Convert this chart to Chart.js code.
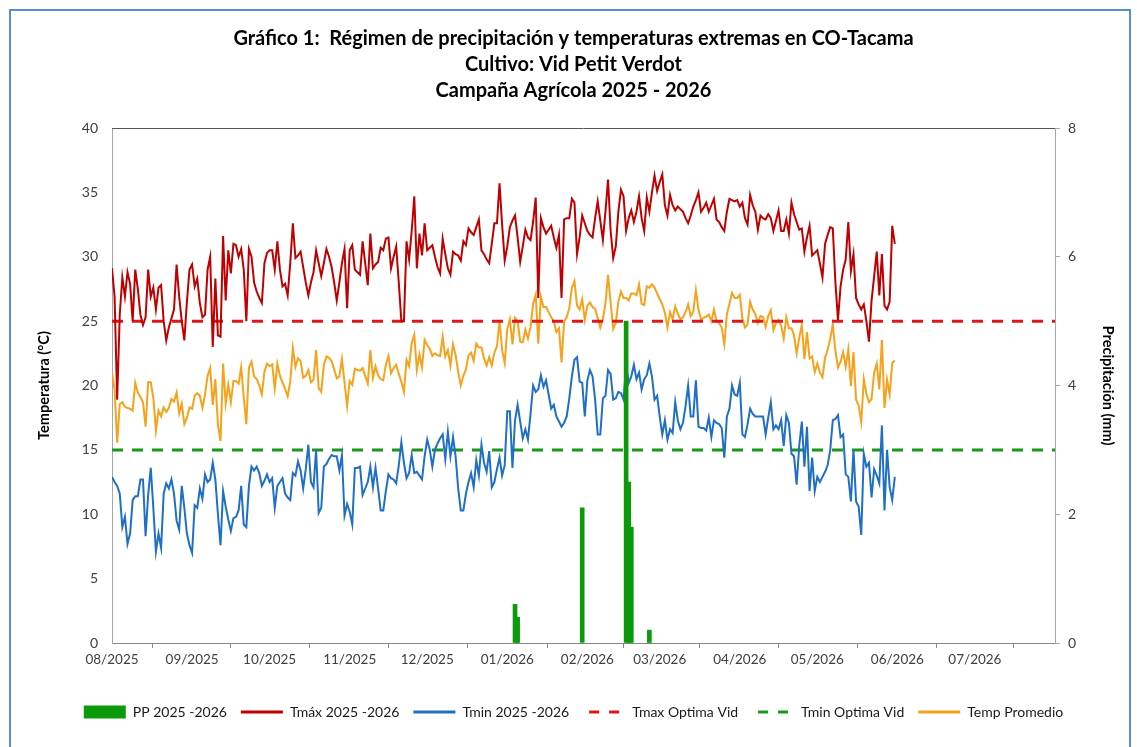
<!DOCTYPE html>
<html>
<head>
<meta charset="utf-8">
<script src="https://cdn.jsdelivr.net/npm/chart.js@4.4.1/dist/chart.umd.min.js"></script>
<style>
html,body{margin:0;padding:0;background:#fff;}
#wrap{position:relative;width:1137px;height:747px;overflow:hidden;background:#fff;}
#frame{position:absolute;left:9px;top:9px;width:1122px;height:760px;border:2px solid #5B8ED0;box-sizing:border-box;pointer-events:none;}
canvas{position:absolute;left:0;top:0;}
</style>
</head>
<body>
<div id="wrap"><canvas id="c" width="1137" height="747"></canvas><div id="frame"></div></div>
<script>
// Day index 0 = 2025-08-01 (daily series)
const startDate = '2025-08-01';
const monthTickDays = [0, 31, 61, 92, 122, 153, 184, 212, 243, 273, 304, 334];
const monthTickLabels = ['08/2025','09/2025','10/2025','11/2025','12/2025','01/2026','02/2026','03/2026','04/2026','05/2026','06/2026','07/2026'];
const axisEndDay = 365;

const tmax = [
29.1,26.9,18.9,25.5,28.4,26.9,28.8,27.9,25.0,29.0,
27.5,25.5,24.7,25.3,29.0,26.9,27.6,25.9,27.6,27.8,
25.0,23.5,24.5,25.2,25.9,29.4,26.9,25.0,23.5,26.5,
29.0,29.4,27.7,28.3,26.4,25.3,25.5,29.0,30.0,23.0,
28.3,23.9,23.8,31.6,26.6,30.5,28.7,31.0,30.9,30.0,
30.6,29.0,25.0,30.6,30.0,28.0,27.3,26.8,26.4,29.5,
30.3,30.5,30.5,29.0,31.2,29.0,27.7,27.9,27.0,29.5,
32.6,29.9,30.1,30.4,29.2,28.0,27.0,28.0,28.8,30.5,
29.5,28.5,29.5,30.6,30.0,29.2,28.0,26.6,28.0,29.5,
30.6,26.0,30.5,30.9,29.0,28.8,28.6,31.2,29.5,27.8,
31.8,29.1,29.4,29.6,30.7,30.5,31.4,31.5,29.1,30.0,
30.8,28.0,25.0,25.0,31.2,29.8,32.0,34.7,29.1,31.8,
30.1,32.6,30.5,30.7,30.9,30.0,29.2,28.7,31.4,30.2,
29.1,28.6,30.4,30.2,30.1,29.7,31.2,30.9,32.2,31.9,
31.7,32.3,32.9,30.5,30.2,29.8,29.5,31.0,32.6,32.6,
35.7,32.5,29.7,30.8,32.3,32.8,33.2,31.5,29.6,30.8,
32.1,31.5,31.3,32.7,34.6,26.8,33.0,32.3,31.8,32.1,
32.4,31.5,30.7,31.7,26.8,32.9,33.0,33.0,34.5,34.2,
30.2,31.5,33.2,32.6,32.0,31.7,31.5,33.0,34.3,32.8,
31.3,33.5,36.0,32.0,29.9,30.8,33.5,35.2,34.7,32.0,
33.0,33.6,32.7,33.5,34.7,33.0,32.0,34.6,33.5,35.0,
36.3,35.1,35.8,36.4,34.0,33.2,34.8,34.0,33.6,33.9,
33.7,33.5,33.0,32.6,33.2,33.9,34.4,35.0,33.5,33.8,
34.2,33.5,34.0,34.5,32.9,32.7,32.3,32.0,33.5,34.5,
34.4,34.3,34.4,33.9,34.2,33.0,32.5,34.8,34.0,33.5,
32.1,33.2,33.0,32.9,33.3,33.0,32.0,32.8,33.6,32.0,
32.0,32.9,31.8,34.2,33.3,32.7,32.1,32.2,30.4,31.5,
32.4,30.1,30.3,30.5,29.5,28.4,31.0,31.7,32.3,32.2,
28.0,25.1,27.7,29.0,29.8,32.7,28.9,30.2,26.8,26.3,
25.9,26.3,25.0,23.4,26.6,28.5,30.4,27.0,30.2,26.2,
25.9,26.5,32.4,31.0
];

const tmin = [
12.9,12.5,12.2,11.6,9.0,9.8,7.7,8.5,11.1,11.4,
11.4,12.7,12.7,8.3,11.5,13.6,10.5,7.1,8.5,7.4,
11.6,12.4,12.0,12.7,11.6,9.5,8.8,12.2,10.5,8.5,
7.6,7.0,10.7,10.5,12.0,11.2,13.1,12.5,12.7,14.0,
12.7,10.0,7.6,11.8,10.6,9.6,8.7,9.7,9.8,10.3,
12.2,9.2,9.0,12.2,13.7,13.4,13.7,13.2,12.2,12.6,
13.1,12.5,12.8,10.5,12.2,12.5,12.8,11.6,11.3,11.1,
13.2,13.0,14.1,13.4,12.0,13.5,15.4,12.5,12.1,15.0,
10.1,10.5,13.7,13.9,14.3,14.6,14.5,14.5,13.4,14.6,
9.9,10.8,10.2,9.2,13.6,13.6,13.7,11.5,12.0,12.5,
13.7,12.1,13.6,12.0,10.3,10.3,11.8,13.1,12.8,12.7,
12.4,13.8,15.6,14.0,12.8,13.2,14.6,13.2,13.3,13.0,
12.7,14.5,15.8,15.0,13.7,15.0,15.5,15.9,16.2,14.3,
16.4,14.5,16.0,14.5,12.0,10.3,10.3,11.6,12.5,13.2,
12.1,14.2,13.0,15.4,14.0,13.3,14.9,12.1,12.5,13.5,
14.4,13.0,13.8,18.0,18.0,13.6,17.3,18.5,17.2,15.9,
16.6,15.8,17.8,20.0,19.5,19.7,20.8,19.9,20.4,19.3,
18.2,18.5,17.6,17.2,16.8,17.1,17.6,19.0,20.7,22.0,
22.2,20.3,20.2,17.6,20.4,21.2,20.7,18.9,16.2,16.2,
19.0,19.2,21.2,20.9,18.9,19.0,19.5,19.4,18.9,21.6,
20.2,20.7,21.6,20.5,21.0,19.7,20.5,20.8,21.7,20.7,
18.9,19.2,17.6,16.2,17.3,15.8,16.6,16.3,18.7,17.3,
16.6,17.1,18.4,20.0,17.6,17.6,20.4,16.8,16.7,16.7,
16.5,17.5,16.0,17.3,17.1,17.0,16.7,14.4,17.6,18.2,
20.0,19.3,19.2,20.2,16.2,16.0,17.0,18.2,17.8,17.6,
17.6,17.6,17.6,16.2,17.5,18.7,16.6,16.9,16.6,17.3,
15.3,17.7,17.1,14.7,14.5,12.3,15.3,17.2,13.7,16.8,
11.8,14.4,11.8,12.9,12.5,12.9,13.3,13.8,15.0,17.3,
17.4,17.7,16.0,16.2,13.1,12.9,11.0,15.0,11.0,10.6,
8.4,14.7,13.7,14.0,11.3,13.5,13.0,12.4,16.9,10.3,
15.0,12.1,11.1,12.9
];

const tprom = [
21.0,19.7,15.55,18.55,18.7,18.35,18.25,18.2,18.05,20.2,
19.45,19.1,18.7,16.8,20.25,20.25,19.05,16.5,18.05,17.6,
18.3,17.95,18.25,18.95,18.75,19.45,17.85,18.6,17.0,17.5,
18.3,18.2,19.2,19.4,19.2,18.25,19.3,20.75,21.35,18.5,
20.5,16.95,15.7,21.7,18.6,20.05,18.7,20.35,20.35,20.15,
21.4,19.1,17.0,21.4,21.85,20.7,20.5,20.0,19.3,21.05,
21.7,21.5,21.65,19.75,21.7,20.75,20.25,19.75,19.15,20.3,
22.9,21.45,22.1,21.9,20.6,20.75,21.2,20.25,20.45,22.75,
19.8,19.5,21.6,22.25,22.15,21.9,21.25,20.55,20.7,22.05,
20.25,18.4,20.35,20.05,21.3,21.2,21.15,21.35,20.75,20.15,
22.75,20.6,21.5,20.8,20.5,20.4,21.6,22.3,20.95,21.35,
21.6,20.9,20.3,19.5,22.0,21.5,23.3,23.95,21.2,22.4,
21.4,23.55,23.15,22.85,22.3,22.5,22.35,22.3,23.8,22.25,
22.75,21.55,23.2,22.35,21.05,20.0,20.75,21.25,22.35,22.55,
21.9,23.25,22.95,22.95,22.1,21.55,22.2,21.55,22.55,23.05,
25.05,22.75,21.75,24.4,25.15,23.2,25.25,25.0,23.4,23.35,
24.35,23.65,24.55,26.35,27.05,23.25,26.9,26.1,26.1,25.7,
25.3,25.0,24.15,24.45,21.8,25.0,25.3,26.0,27.6,28.1,
26.2,25.9,26.7,25.1,26.2,26.45,26.1,25.95,25.25,24.5,
25.15,26.35,28.6,26.45,24.4,24.9,26.5,27.3,26.8,26.8,
26.6,27.15,27.15,27.0,27.85,26.35,26.25,27.7,27.6,27.85,
27.6,27.15,26.7,26.3,25.65,24.5,25.7,25.15,26.15,25.6,
25.15,25.3,25.7,26.3,25.4,25.75,27.4,25.9,25.1,25.25,
25.35,25.5,25.0,25.9,25.0,24.85,24.5,23.2,25.55,26.35,
27.2,26.8,26.8,27.05,25.2,24.5,24.75,26.5,25.9,25.55,
24.85,25.4,25.3,24.55,25.4,25.85,24.3,24.85,25.1,24.65,
23.65,25.3,24.45,24.45,23.9,22.5,23.7,24.7,22.05,24.15,
22.1,22.25,21.05,21.7,21.0,20.65,22.15,22.75,23.65,24.75,
22.7,21.4,21.85,22.6,21.45,22.8,19.95,22.6,18.9,18.45,
17.15,20.5,19.35,18.7,18.95,21.0,21.7,19.7,23.55,18.25,
20.45,19.3,21.75,21.95
];

// Precipitation (mm), days with rain
const ppDays = [156, 157, 182, 199, 200, 201, 208];
const ppValues = [0.6, 0.4, 2.1, 5.0, 2.5, 1.8, 0.2];

// Optimal thresholds for the vine (°C)
const tmaxOptima = 25;
const tminOptima = 15;

const titleLines = [
  'Gráfico 1:  Régimen de precipitación y temperaturas extremas en CO-Tacama',
  'Cultivo: Vid Petit Verdot',
  'Campaña Agrícola 2025 - 2026'
];

const toXY = arr => arr.map((v, i) => ({x: i, y: v}));
const FONT = 'Lato, "Liberation Sans", sans-serif';
Chart.defaults.font.family = FONT;

const topLine = {
  id: 'topLine',
  afterDraw(chart) {
    const {ctx, chartArea: a} = chart;
    ctx.save();
    ctx.strokeStyle = '#595959';
    ctx.lineWidth = 1;
    ctx.beginPath();
    ctx.moveTo(a.left, Math.round(a.top) + 0.5);
    ctx.lineTo(a.right, Math.round(a.top) + 0.5);
    ctx.stroke();
    ctx.restore();
  }
};

new Chart(document.getElementById('c'), {
  type: 'line',
  data: {
    datasets: [
      {
        type: 'bar', label: 'PP 2025 -2026',
        data: ppDays.map((d, i) => ({x: d, y: ppValues[i]})),
        yAxisID: 'y1', backgroundColor: '#0A9A0A', borderColor: '#0A9A0A', borderWidth: 0,
        barThickness: 4, pointStyle: 'rect'
      },
      {
        label: 'Tmáx 2025 -2026', data: toXY(tmax), yAxisID: 'y',
        borderColor: '#C00000', backgroundColor: '#C00000', borderWidth: 2,
        pointRadius: 0, tension: 0, pointStyle: 'line'
      },
      {
        label: 'Tmin 2025 -2026', data: toXY(tmin), yAxisID: 'y',
        borderColor: '#1F6FC6', backgroundColor: '#1F6FC6', borderWidth: 2,
        pointRadius: 0, tension: 0, pointStyle: 'line'
      },
      {
        label: 'Tmax Optima Vid', data: [{x: 0, y: tmaxOptima}, {x: axisEndDay, y: tmaxOptima}], yAxisID: 'y',
        borderColor: '#E0161B', backgroundColor: '#E0161B', borderWidth: 3, borderDash: [11, 9],
        pointRadius: 0, tension: 0, pointStyle: 'line'
      },
      {
        label: 'Tmin Optima Vid', data: [{x: 0, y: tminOptima}, {x: axisEndDay, y: tminOptima}], yAxisID: 'y',
        borderColor: '#1A961A', backgroundColor: '#1A961A', borderWidth: 3, borderDash: [11, 9],
        pointRadius: 0, tension: 0, pointStyle: 'line'
      },
      {
        label: 'Temp Promedio', data: toXY(tprom), yAxisID: 'y',
        borderColor: '#F7A21B', backgroundColor: '#F7A21B', borderWidth: 2,
        pointRadius: 0, tension: 0, pointStyle: 'line'
      }
    ]
  },
  options: {
    responsive: false,
    animation: false,
    devicePixelRatio: 1,
    events: [],
    layout: {padding: {left: 10, right: 0, top: 0, bottom: 18}},
    plugins: {
      title: {
        display: true, text: titleLines, color: '#000',
        font: {family: FONT, size: 20, weight: 'bold', lineHeight: 1.3},
        padding: {top: 26, bottom: 24}
      },
      legend: {
        position: 'bottom',
        labels: {
          usePointStyle: true, pointStyleWidth: 42, boxHeight: 13,
          color: '#1a1a1a', font: {family: FONT, size: 14}, padding: 14,
          generateLabels: chart => {
            const items = Chart.defaults.plugins.legend.labels.generateLabels(chart);
            items.forEach(it => {
              const ds = chart.data.datasets[it.datasetIndex];
              if (ds.type === 'bar') {
                it.lineWidth = 0;
                it.fillStyle = ds.backgroundColor;
              } else {
                it.strokeStyle = ds.borderColor;
                it.lineWidth = 3;
                it.lineDash = ds.borderDash ? [10, 10] : [];
                it.lineDashOffset = ds.borderDash ? -6 : 0;
              }
            });
            return items;
          }
        }
      },
      tooltip: {enabled: false}
    },
    scales: {
      x: {
        type: 'linear', min: 0, max: axisEndDay, offset: false,
        afterBuildTicks: s => { s.ticks = monthTickDays.map(v => ({value: v})); },
        afterFit: s => { s.height = 48; },
        ticks: {
          autoSkip: false, maxRotation: 0, padding: 4, color: '#404040',
          font: {family: FONT, size: 13.5},
          callback: (v, i) => monthTickLabels[i]
        },
        grid: {drawOnChartArea: false, drawTicks: true, tickLength: 5, tickColor: '#868686'},
        border: {display: true, color: '#868686', width: 1}
      },
      y: {
        position: 'left', min: 0, max: 40,
        afterFit: s => { s.width = 102; },
        ticks: {stepSize: 5, padding: 14, color: '#404040', font: {family: FONT, size: 14}},
        grid: {display: false, drawTicks: false},
        border: {display: true, color: '#A6A6A6', width: 1},
        title: {
          display: true, text: 'Temperatura (°C)', color: '#000',
          font: {family: FONT, size: 14.5, weight: 'bold', lineHeight: 1.2},
          padding: {top: 26, bottom: 0}
        }
      },
      y1: {
        position: 'right', min: 0, max: 8,
        afterFit: s => { s.width = 82; },
        ticks: {stepSize: 2, padding: 8, color: '#404040', font: {family: FONT, size: 14}},
        grid: {display: true, drawOnChartArea: false, drawTicks: true, tickLength: 5, tickColor: '#A6A6A6'},
        border: {display: true, color: '#A6A6A6', width: 1},
        title: {
          display: true, text: 'Precipitación (mm)', color: '#000',
          font: {family: FONT, size: 14.5, weight: 'bold', lineHeight: 1.2},
          padding: {top: 21, bottom: 0}
        }
      }
    }
  },
  plugins: [topLine]
});
</script>
</body>
</html>
